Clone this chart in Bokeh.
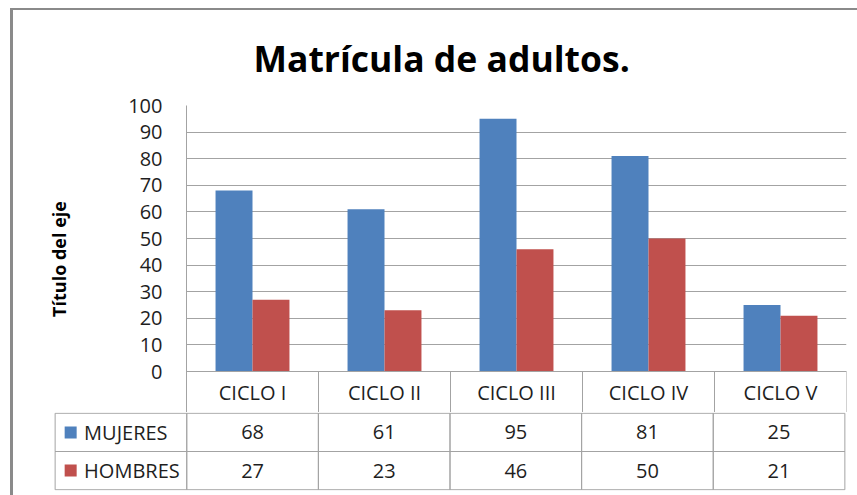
from bokeh.plotting import figure
from bokeh.layouts import column
from bokeh.models import FactorRange, Range1d, FixedTicker, ColumnDataSource
from bokeh.transform import dodge
from bokeh.embed import file_html
from bokeh.resources import INLINE
from bokeh.core.properties import value

# ---------------- data ----------------
title_text = "Matrícula de adultos."
y_axis_title = "Título del eje"
categories = ["CICLO I", "CICLO II", "CICLO III", "CICLO IV", "CICLO V"]
series_names = ["MUJERES", "HOMBRES"]
mujeres = [68, 61, 95, 81, 25]
hombres = [27, 23, 46, 50, 21]
y_ticks = [0, 10, 20, 30, 40, 50, 60, 70, 80, 90, 100]
series_colors = ["#4F81BD", "#C0504D"]

FONT = "Open Sans"
TXT = "#1e1e1e"
GRID = "#a3a3a3"
HEAD_H = 15.41  # header row height in value units (drawn below 0)

# ---------------- chart + header row ----------------
src = ColumnDataSource(dict(cat=categories, mujeres=mujeres, hombres=hombres))

top = figure(x_range=FactorRange(*categories), y_range=Range1d(-HEAD_H, 100),
             width=844, height=402, output_backend="svg", toolbar_location=None,
             min_border_left=173, min_border_right=11, min_border_top=95,
             min_border_bottom=0, x_axis_location=None)
top.vbar(x=dodge("cat", -0.14, range=top.x_range), top="mujeres", width=0.28,
         source=src, fill_color=series_colors[0], line_color=None)
top.vbar(x=dodge("cat", 0.14, range=top.x_range), top="hombres", width=0.28,
         source=src, fill_color=series_colors[1], line_color=None)

head = ColumnDataSource(dict(x=categories, y=[-HEAD_H / 2] * len(categories)))
top.rect(x="x", y="y", width=1, height=HEAD_H, source=head, fill_color=None, line_color=GRID)
top.text(x="x", y="y", text="x", source=head, text_align="center", text_baseline="middle",
         text_font=value(FONT), text_font_size="20px", text_color=TXT)

top.title.text = title_text
top.title.align = "left"
top.title.offset = 67
top.title.vertical_align = "top"
top.title.standoff = 44
top.title.text_font = FONT
top.title.text_font_size = "35.5px"
top.title.text_font_style = "bold"
top.title.text_color = "#000000"

top.xgrid.visible = False
top.ygrid.grid_line_color = GRID
top.outline_line_color = None
top.yaxis.ticker = FixedTicker(ticks=y_ticks)
top.yaxis.major_tick_line_color = None
top.yaxis.minor_tick_line_color = None
top.yaxis.axis_line_color = GRID
top.yaxis.major_label_text_font = FONT
top.yaxis.major_label_text_font_size = "20px"
top.yaxis.major_label_text_color = TXT
top.yaxis.major_label_standoff = 18
top.yaxis.axis_label = y_axis_title
top.yaxis.axis_label_text_font = FONT
top.yaxis.axis_label_text_font_size = "18px"
top.yaxis.axis_label_text_font_style = "bold"
top.yaxis.axis_label_text_color = "#000000"
top.yaxis.axis_label_standoff = 54

# ---------------- data table rows ----------------
table_cols = ["LEYENDA"] + categories
bot = figure(x_range=FactorRange(*table_cols, range_padding=0.02, range_padding_units="absolute"),
             y_range=Range1d(-0.02, 2.02),
             width=844, height=83, output_backend="svg", toolbar_location=None,
             min_border_left=39, min_border_right=10, min_border_top=0,
             min_border_bottom=5, x_axis_location=None, y_axis_location=None)
bot.grid.visible = False
bot.outline_line_color = None

cells = ColumnDataSource(dict(x=table_cols * 2, y=[1.5] * len(table_cols) + [0.5] * len(table_cols)))
bot.rect(x="x", y="y", width=1, height=1, source=cells, fill_color=None, line_color=GRID)

vals = ColumnDataSource(dict(x=categories * 2,
                             y=[1.5] * len(categories) + [0.5] * len(categories),
                             t=[str(v) for v in mujeres + hombres]))
bot.text(x="x", y="y", text="t", source=vals, text_align="center", text_baseline="middle",
         text_font=value(FONT), text_font_size="20px", text_color=TXT)

leg = ColumnDataSource(dict(x=["LEYENDA"] * 2, y=[1.5, 0.5], name=series_names, color=series_colors))
bot.scatter(x=dodge("x", -0.382, range=bot.x_range), y="y", source=leg, marker="square",
            size=12, fill_color="color", line_color=None)
bot.text(x=dodge("x", -0.28, range=bot.x_range), y="y", text="name", source=leg,
         text_align="left", text_baseline="middle", text_font=value(FONT),
         text_font_size="20px", text_color=TXT)

layout = column(top, column(bot, spacing=0), spacing=0,
                styles={"border-left": "3px solid #8a8a8a", "border-top": "2px solid #8a8a8a",
                        "margin-left": "10px", "margin-top": "8px"})

open("out.html", "w").write(file_html(layout, INLINE))
